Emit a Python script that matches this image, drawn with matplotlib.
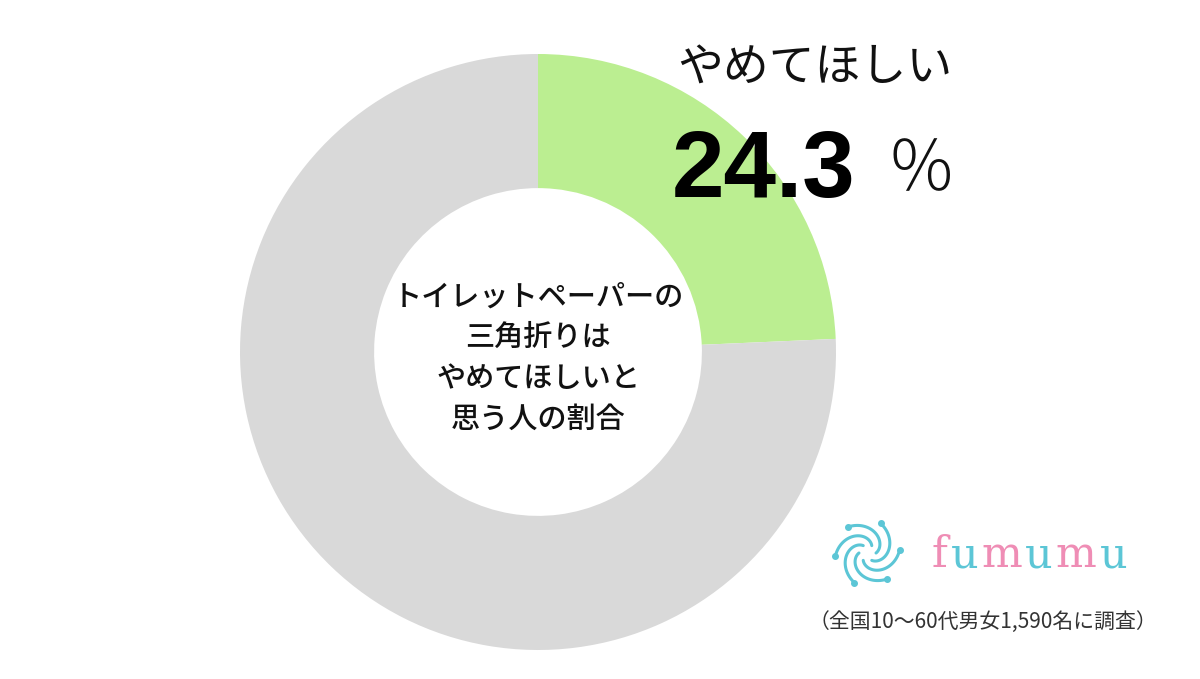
import numpy as np
import matplotlib.pyplot as plt

plt.rcParams['font.family'] = ['Noto Sans CJK JP', 'DejaVu Sans']

labels = ['やめてほしい', 'その他']
values = [24.3, 75.7]
colors = ['#bbee91', '#d9d9d9']
center_lines = ['トイレットペーパーの', '三角折りは', 'やめてほしいと', '思う人の割合']
note = '（全国10〜60代男女1,590名に調査）'
brand = 'fumumu'

fig = plt.figure(figsize=(12, 6.79), dpi=100)

# donut
ax = fig.add_axes([240 / 1200, 29 / 679, 596 / 1200, 596 / 679])
ax.pie(values, colors=colors, startangle=90, counterclock=False,
       radius=1.0, wedgeprops=dict(width=0.45, edgecolor='none'))
ax.set_xlim(-1, 1)
ax.set_ylim(-1, 1)
ax.set_aspect('equal')
ax.axis('off')

ax.text(0, -0.02, '\n'.join(center_lines), ha='center', va='center',
        fontsize=21, fontweight='medium', linespacing=1.4, color='#111111')

# headline
fig.text(815 / 1200, 1 - 68 / 679, labels[0], ha='center', va='center',
         fontsize=33, color='#111111')
fig.text(855 / 1200, 1 - 172 / 679, f'{values[0]}', ha='right', va='center',
         fontsize=68, fontweight='bold', family=['Liberation Sans', 'DejaVu Sans'],
         color='#000000')
fig.text(921 / 1200, 1 - 172 / 679, '％', ha='center', va='center',
         fontsize=50, fontweight='light', color='#111111')

# logo mark
lax = fig.add_axes([830 / 1200, 1 - 592 / 679, 75 / 1200, 78 / 679])
t = np.linspace(0, 1, 60)
for k in range(6):
    a = k * np.pi / 3
    r = 0.25 + 0.7 * t
    th = a + 2.2 * t
    lax.plot(r * np.cos(th), r * np.sin(th), color='#5cc6d6', lw=2.2,
             solid_capstyle='round')
    lax.plot([0.95 * np.cos(a + 2.2)], [0.95 * np.sin(a + 2.2)], 'o',
             color='#5cc6d6', ms=4)
lax.set_xlim(-1.1, 1.1)
lax.set_ylim(-1.1, 1.1)
lax.set_aspect('equal')
lax.axis('off')

# brand text with alternating colours, letters placed one after another
renderer = fig.canvas.get_renderer()
x = 932
for i, ch in enumerate(brand):
    c = '#ef8db5' if i % 2 == 0 else '#5cc6d6'
    tx = fig.text(x / 1200, 1 - 555 / 679, ch, ha='left', va='center',
                  fontsize=31, color=c, family=['DejaVu Serif'])
    bb = tx.get_window_extent(renderer)
    x += bb.width + 3

fig.text(983 / 1200, 1 - 622 / 679, note, ha='center', va='center',
         fontsize=15, color='#333333')

fig.savefig('out.png', dpi=100, facecolor='white')
